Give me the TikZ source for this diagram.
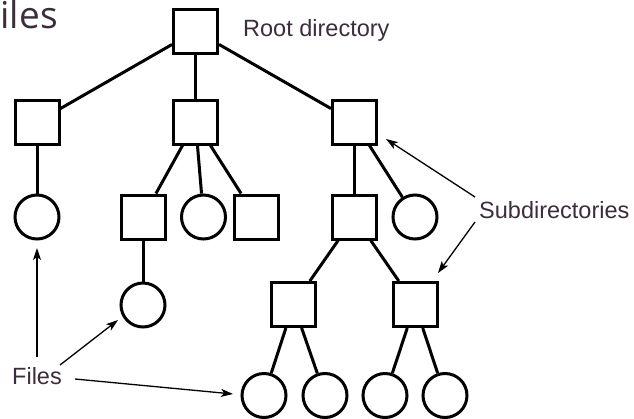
\documentclass[tikz,border=0pt]{standalone}
\usepackage{fontspec}
\setmainfont{Liberation Sans}
\newfontfamily\titlefont[LetterSpace=1]{Open Sans}
\usetikzlibrary{arrows.meta}
\definecolor{labelink}{HTML}{3B2E3A}
\tikzset{
  dirbox/.style={draw=black, line width=3pt, minimum size=44pt, inner sep=0pt, fill=white},
  filecirc/.style={draw=black, line width=3pt, circle, minimum size=44pt, inner sep=0pt, fill=white},
  link/.style={draw=black, line width=3pt},
  label/.style={text=labelink, inner sep=0pt, font=\fontsize{23.5}{28}\selectfont},
  pointer/.style={draw=black, line width=1.3pt, -{Stealth[length=12pt,width=8pt,inset=3pt]}},
}
\begin{document}
\begin{tikzpicture}[x=1pt, y=-1pt]
\useasboundingbox (0,0) rectangle (634,418);
\clip (0,0) rectangle (634,418);
\fill[white] (0,0) rectangle (634,418);

% heading
\node[anchor=base west, inner sep=0pt, text=labelink, font=\titlefont\fontsize{37}{44}\selectfont] (title) at (0,28) {iles};

% directory tree
\node[dirbox] (root) at (195.5,31) {};
\node[dirbox] (l1) at (37,122) {};
\node[dirbox] (m1) at (195.5,122) {};
\node[dirbox] (r1) at (354.5,122) {};

\node[filecirc] (lf) at (37,217) {};
\node[dirbox] (m2a) at (143,217) {};
\node[filecirc] (m2b) at (203.5,217) {};
\node[dirbox] (m2c) at (256,217) {};
\node[dirbox] (r2a) at (354.5,217) {};
\node[filecirc] (r2b) at (415,217) {};

\node[filecirc] (m3) at (143,305) {};
\node[dirbox] (r3a) at (293.5,304.5) {};
\node[dirbox] (r3b) at (415,304.5) {};

\node[filecirc] (f1) at (264,395.5) {};
\node[filecirc] (f2) at (325,395.5) {};
\node[filecirc] (f3) at (385,395.5) {};
\node[filecirc] (f4) at (445,395.5) {};

\draw[link] (root) -- (l1);
\draw[link] (root) -- (m1);
\draw[link] (root) -- (r1);
\draw[link] (l1) -- (lf);
\draw[link] (m1) -- (m2a);
\draw[link] (m1) -- (m2b);
\draw[link] (m1) -- (m2c);
\draw[link] (m2a) -- (m3);
\draw[link] (r1) -- (r2a);
\draw[link] (r1) -- (r2b);
\draw[link] (r2a) -- (r3a);
\draw[link] (r2a) -- (r3b);
\draw[link] (r3a) -- (f1);
\draw[link] (r3a) -- (f2);
\draw[link] (r3b) -- (f3);
\draw[link] (r3b) -- (f4);

% labels
\node[label, anchor=base west] (rootlbl) at (243,36.7) {Root directory};
\node[label, anchor=base west] (sublbl) at (479,218.3) {Subdirectories};
\node[label, anchor=base west] (fileslbl) at (12,384) {Files};

% pointers from the labels
\coordinate (subtailA) at (475,197);
\coordinate (subheadA) at (386,139);
\coordinate (subtailB) at (475,222);
\coordinate (subheadB) at (438,273);
\coordinate (filetailA) at (37,357);
\coordinate (fileheadA) at (37,248);
\coordinate (filetailB) at (60,365);
\coordinate (fileheadB) at (118,320);
\coordinate (filetailC) at (75,379);
\coordinate (fileheadC) at (233,394);

\draw[pointer] (subtailA) -- (subheadA);
\draw[pointer] (subtailB) -- (subheadB);
\draw[pointer] (filetailA) -- (fileheadA);
\draw[pointer] (filetailB) -- (fileheadB);
\draw[pointer] (filetailC) -- (fileheadC);
\end{tikzpicture}
\end{document}
